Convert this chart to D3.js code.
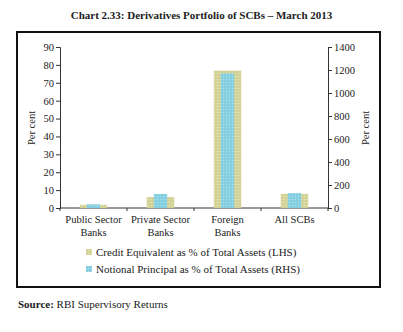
<!DOCTYPE html>
<html>
<head>
<meta charset="utf-8">
<script src="https://cdn.jsdelivr.net/npm/d3@7"></script>
<style>
  body { margin: 0; background: #fff; }
  svg text { font-family: "Liberation Serif", serif; fill: #222; }
</style>
</head>
<body>
<div id="chart"></div>
<script>
const categories = [["Public Sector", "Banks"], ["Private Sector", "Banks"], ["Foreign", "Banks"], ["All SCBs"]];
const creditEquivalent = [1.8, 6.1, 76.8, 7.9];      // LHS, per cent
const notionalPrincipal = [32, 122, 1170, 130];      // RHS, per cent
const leftTicks = [0, 10, 20, 30, 40, 50, 60, 70, 80, 90];
const rightTicks = [0, 200, 400, 600, 800, 1000, 1200, 1400];
const seriesNames = ["Credit Equivalent as % of Total Assets (LHS)", "Notional Principal as % of Total Assets (RHS)"];

const W = 403, H = 332;
const svg = d3.select("#chart").append("svg").attr("width", W).attr("height", H);

// dotted textures
const defs = svg.append("defs");
function dots(id, base, dot) {
  const p = defs.append("pattern").attr("id", id).attr("width", 3).attr("height", 3)
    .attr("patternUnits", "userSpaceOnUse");
  p.append("rect").attr("width", 3).attr("height", 3).attr("fill", base);
  p.append("rect").attr("x", 1).attr("y", 1).attr("width", 1).attr("height", 1).attr("fill", dot);
}
dots("olive", "#d3d297", "#e9e8c4");
dots("blue", "#86cfe0", "#b6e3ee");

svg.append("text").attr("x", W / 2).attr("y", 19).attr("text-anchor", "middle")
  .style("font-weight", "bold").style("font-size", "11px")
  .text("Chart 2.33: Derivatives Portfolio of SCBs \u2013 March 2013");

svg.append("rect").attr("x", 17).attr("y", 32).attr("width", 363).attr("height", 255)
  .attr("fill", "none").attr("stroke", "#111").attr("stroke-width", 2);

const x = d3.scaleBand().domain(d3.range(categories.length)).range([60, 328]);
const yL = d3.scaleLinear().domain([0, 90]).range([208, 47]);
const yR = d3.scaleLinear().domain([0, 1400]).range([208, 47]);

const axL = svg.append("g").attr("transform", "translate(60,0)")
  .call(d3.axisLeft(yL).tickValues(leftTicks).tickSize(4).tickPadding(2));
const axR = svg.append("g").attr("transform", "translate(328,0)")
  .call(d3.axisRight(yR).tickValues(rightTicks).tickFormat(d3.format("d")).tickSize(4).tickPadding(2));
[axL, axR].forEach(a => {
  a.select(".domain").attr("stroke", "#333");
  a.selectAll(".tick line").attr("stroke", "#333");
  a.selectAll("text").style("font-size", "10.5px").attr("fill", "#222");
});

// x axis with ticks at band edges
const xAxis = svg.append("g");
xAxis.append("line").attr("x1", x.range()[0]).attr("x2", x.range()[1])
  .attr("y1", yL(0)).attr("y2", yL(0)).attr("stroke", "#333");
const edges = categories.map((c, i) => x(i)).concat([x.range()[1]]);
xAxis.selectAll(".edge").data(edges).join("line")
  .attr("x1", d => d).attr("x2", d => d).attr("y1", yL(0)).attr("y2", yL(0) + 3).attr("stroke", "#333");
categories.forEach((lines, i) => {
  const t = xAxis.append("text").attr("x", x(i) + x.bandwidth() / 2).attr("y", 223)
    .attr("text-anchor", "middle").style("font-size", "10.5px");
  lines.forEach((l, j) => t.append("tspan").attr("x", x(i) + x.bandwidth() / 2).attr("dy", j ? 12.5 : 0).text(l));
});

// bars
const wOlive = x.bandwidth() * 0.41, wBlue = x.bandwidth() * 0.2;
svg.selectAll(".ce").data(creditEquivalent).join("rect")
  .attr("x", (d, i) => x(i) + (x.bandwidth() - wOlive) / 2).attr("width", wOlive)
  .attr("y", d => yL(d)).attr("height", d => yL(0) - yL(d)).attr("fill", "url(#olive)");
svg.selectAll(".np").data(notionalPrincipal).join("rect")
  .attr("x", (d, i) => x(i) + (x.bandwidth() - wBlue) / 2).attr("width", wBlue)
  .attr("y", d => yR(d)).attr("height", d => yR(0) - yR(d)).attr("fill", "url(#blue)");

// axis titles
svg.append("text").attr("transform", "translate(35,128) rotate(-90)").attr("text-anchor", "middle")
  .style("font-size", "10.5px").text("Per cent");
svg.append("text").attr("transform", "translate(369,128) rotate(-90)").attr("text-anchor", "middle")
  .style("font-size", "10.5px").text("Per cent");

// legend
const fills = ["url(#olive)", "url(#blue)"];
seriesNames.forEach((s, i) => {
  const yy = 252 + i * 17;
  svg.append("rect").attr("x", 86).attr("y", yy - 3).attr("width", 6).attr("height", 6).attr("fill", fills[i]);
  svg.append("text").attr("x", 96).attr("y", yy + 3.5).style("font-size", "11px").text(s);
});

// source
const src = svg.append("text").attr("x", 18).attr("y", 308).style("font-size", "11px");
src.append("tspan").style("font-weight", "bold").text("Source: ");
src.append("tspan").text("RBI Supervisory Returns");
</script>
</body>
</html>
